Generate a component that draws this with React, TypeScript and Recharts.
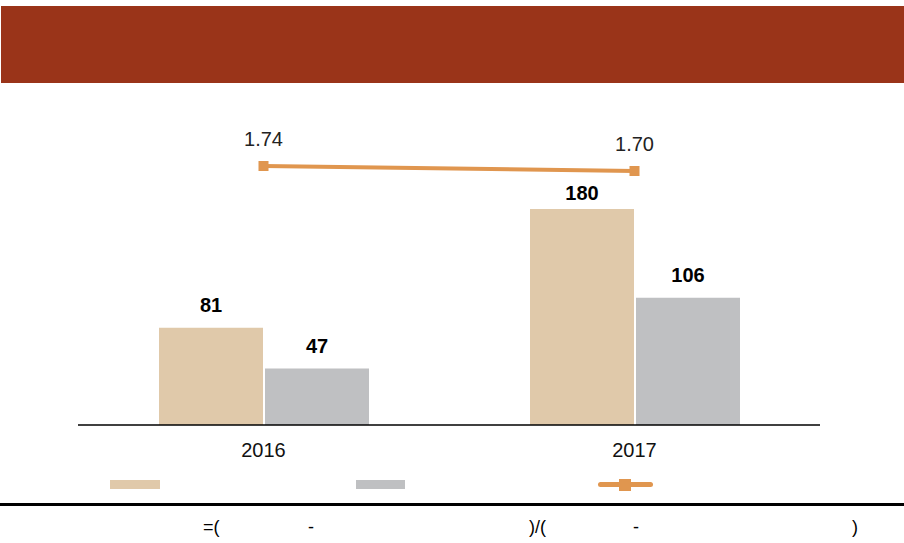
import { ComposedChart, Bar, Line, XAxis, YAxis, LabelList } from "recharts";

const years = ["2016", "2017"];
const seriesA = [81, 180];
const seriesB = [47, 106];
const ratio = [1.74, 1.7];

const data = years.map((y, i) => ({ year: y, a: seriesA[i], b: seriesB[i], r: ratio[i] }));

const TAN = "#E0C9AA";
const GREY = "#BFC0C2";
const ORANGE = "#E0964F";

const SquareDot = (props: any) => {
  const { cx, cy } = props;
  if (cx == null || cy == null) return null;
  return <rect x={cx - 5} y={cy - 5} width={10} height={10} fill={ORANGE} />;
};

// bar value label; tall bars sit closer to their label so it clears the ratio line
const BarValue = (props: any) => {
  const { x, y, width, value } = props;
  const gap = value > 150 ? 9 : 16;
  return (
    <text
      x={x + width / 2}
      y={y - gap}
      textAnchor="middle"
      fill="#000"
      fontSize={20}
      fontWeight="bold"
    >
      {value}
    </text>
  );
};

export default function App() {
  return (
    <div
      style={{
        position: "absolute",
        left: 0,
        top: 0,
        width: 904,
        height: 543,
        background: "#fff",
        fontFamily: "'Liberation Sans', Arial, sans-serif",
        overflow: "hidden",
      }}
    >
      <div style={{ position: "absolute", left: 1, top: 6, width: 903, height: 77, background: "#9A3419" }} />

      <div style={{ position: "absolute", left: 0, top: 0 }}>
        <ComposedChart
          width={904}
          height={470}
          data={data}
          margin={{ top: 125, right: 84, left: 78, bottom: 15 }}
          barGap={2}
          style={{ fontFamily: "'Liberation Sans', Arial, sans-serif" }}
        >
          <XAxis
            dataKey="year"
            height={30}
            axisLine={{ stroke: "#000", strokeWidth: 1.5 }}
            tickLine={false}
            tickMargin={12}
            tick={{ fill: "#111", fontSize: 20 }}
          />
          <YAxis yAxisId="left" hide domain={[0, 250]} />
          <YAxis yAxisId="right" hide orientation="right" domain={[-0.332, 2.068]} />
          <Bar yAxisId="left" dataKey="a" fill={TAN} barSize={104} isAnimationActive={false}>
            <LabelList dataKey="a" content={<BarValue />} />
          </Bar>
          <Bar yAxisId="left" dataKey="b" fill={GREY} barSize={104} isAnimationActive={false}>
            <LabelList dataKey="b" content={<BarValue />} />
          </Bar>
          <Line
            yAxisId="right"
            dataKey="r"
            stroke={ORANGE}
            strokeWidth={4}
            dot={<SquareDot />}
            activeDot={false}
            isAnimationActive={false}
          >
            <LabelList
              dataKey="r"
              position="top"
              offset={20}
              fill="#222"
              fontSize={20}
              formatter={(v: any) => Number(v).toFixed(2)}
            />
          </Line>
        </ComposedChart>
      </div>

      {/* legend */}
      <div style={{ position: "absolute", left: 110, top: 480, width: 50, height: 9, background: TAN }} />
      <div style={{ position: "absolute", left: 356, top: 480, width: 49, height: 9, background: GREY }} />
      <div style={{ position: "absolute", left: 598, top: 482, width: 55, height: 5, background: ORANGE, borderRadius: 3 }} />
      <div style={{ position: "absolute", left: 619, top: 479, width: 12, height: 12, background: ORANGE }} />

      <div style={{ position: "absolute", left: 0, top: 503, width: 904, height: 3, background: "#000" }} />

      <div style={{ position: "absolute", top: 517, left: 0, width: 904, fontSize: 18, color: "#000" }}>
        <span style={{ position: "absolute", left: 203 }}>=(</span>
        <span style={{ position: "absolute", left: 308 }}>-</span>
        <span style={{ position: "absolute", left: 529 }}>)/(</span>
        <span style={{ position: "absolute", left: 633 }}>-</span>
        <span style={{ position: "absolute", left: 852 }}>)</span>
      </div>
    </div>
  );
}
